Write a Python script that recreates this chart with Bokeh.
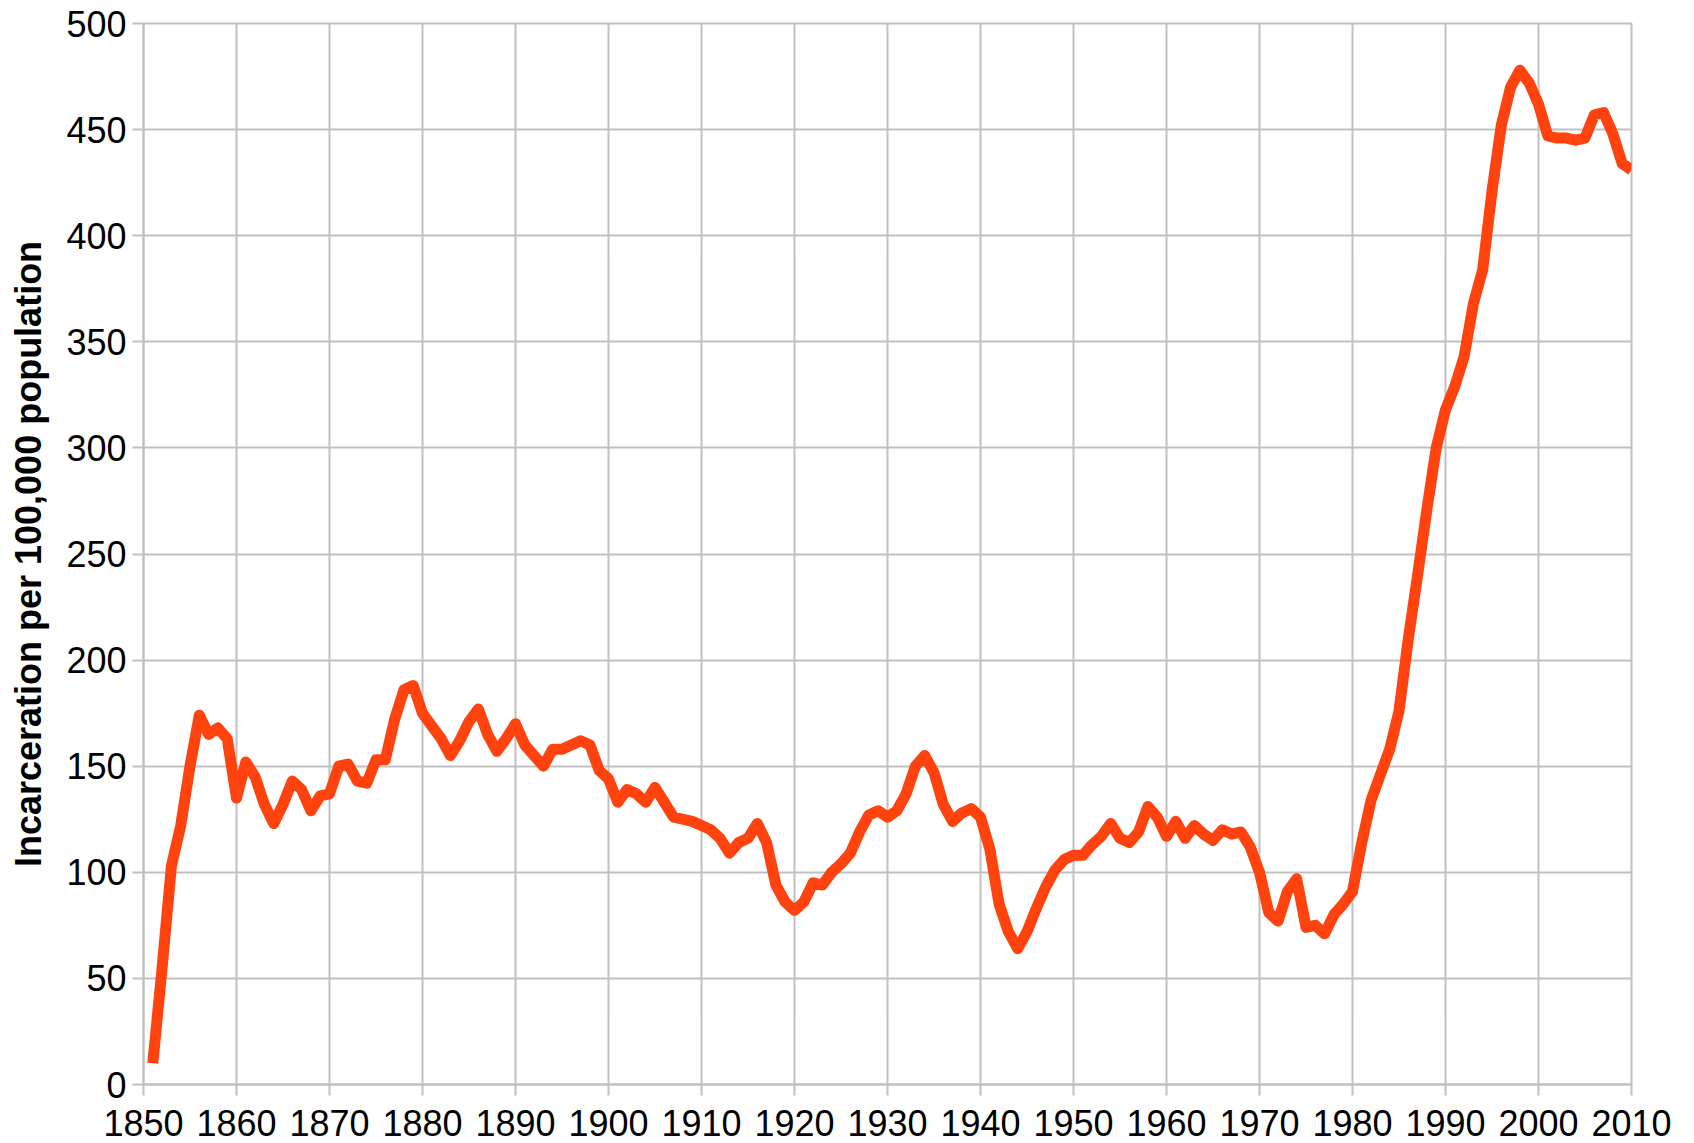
from bokeh.plotting import figure
from bokeh.models import Range1d, SingleIntervalTicker, ColumnDataSource
from bokeh.embed import file_html
from bokeh.resources import INLINE

years = list(range(1851, 2011))
rate = [
    10, 55, 103, 122, 150, 174, 165, 168, 163, 135,          # 1851-1860
    152, 145, 132, 123, 132, 143, 139, 129, 136, 137,        # 1861-1870
    150, 151, 143, 142, 153, 153, 172, 186, 188, 175,        # 1871-1880
    169, 163, 155, 162, 171, 177, 165, 157, 163, 170,        # 1881-1890
    160, 155, 150, 158, 158, 160, 162, 160, 148, 144,        # 1891-1900
    133, 139, 137, 133, 140, 133, 126, 125, 124, 122,        # 1901-1910
    120, 116, 109, 114, 116, 123, 114, 94, 86, 82,           # 1911-1920
    86, 95, 94, 100, 104, 109, 119, 127, 129, 126,           # 1921-1930
    129, 137, 150, 155, 147, 132, 124, 128, 130, 126,        # 1931-1940
    111, 85, 72, 64, 72, 83, 93, 101, 106, 108,              # 1941-1950
    108, 113, 117, 123, 116, 114, 119, 131, 126, 117,        # 1951-1960
    124, 116, 122, 118, 115, 120, 118, 119, 112, 100,        # 1961-1970
    81, 77, 91, 97, 74, 75, 71, 80, 85, 91,                  # 1971-1980
    114, 134, 146, 158, 176, 210, 240, 271, 300, 318,        # 1981-1990
    329, 343, 368, 384, 421, 452, 470, 478, 472, 462,        # 1991-2000
    447, 446, 446, 445, 446, 457, 458, 448, 434, 431,        # 2001-2010
]
y_label = "Incarceration per 100,000 population"

src = ColumnDataSource(dict(year=years, rate=rate))

FONT = "Liberation Sans"
GRID = "#c0c0c0"

p = figure(width=1694, height=1143, output_backend="svg", toolbar_location=None,
           x_range=Range1d(1850, 2010), y_range=Range1d(0, 500),
           min_border_left=143, min_border_right=63, min_border_top=23, min_border_bottom=59)

p.line("year", "rate", source=src, line_color="#ff420e", line_width=11,
       line_join="round", line_cap="butt")

p.xaxis.ticker = SingleIntervalTicker(interval=10)
p.yaxis.ticker = SingleIntervalTicker(interval=50)
p.xgrid.ticker = SingleIntervalTicker(interval=10)
p.ygrid.ticker = SingleIntervalTicker(interval=50)

for ax in (p.xaxis, p.yaxis):
    ax.major_label_text_font = FONT
    ax.major_label_text_font_size = "36px"
    ax.major_label_text_color = "#000000"
    ax.axis_line_color = GRID
    ax.axis_line_width = 2
    ax.major_tick_line_color = GRID
    ax.major_tick_line_width = 2
    ax.major_tick_out = 11
    ax.major_tick_in = 0
    ax.minor_tick_line_color = None

p.xaxis.major_label_standoff = 14
p.yaxis.major_label_standoff = 6

p.yaxis.axis_label = y_label
p.yaxis.axis_label_text_font = FONT
p.yaxis.axis_label_text_font_size = "36px"
p.yaxis.axis_label_text_font_style = "bold"
p.yaxis.axis_label_text_color = "#000000"
p.yaxis.axis_label_standoff = 14

p.grid.grid_line_color = GRID
p.grid.grid_line_width = 2
p.outline_line_color = GRID
p.outline_line_width = 2
p.background_fill_color = "white"
p.border_fill_color = "white"

open("out.html", "w").write(file_html(p, INLINE))
